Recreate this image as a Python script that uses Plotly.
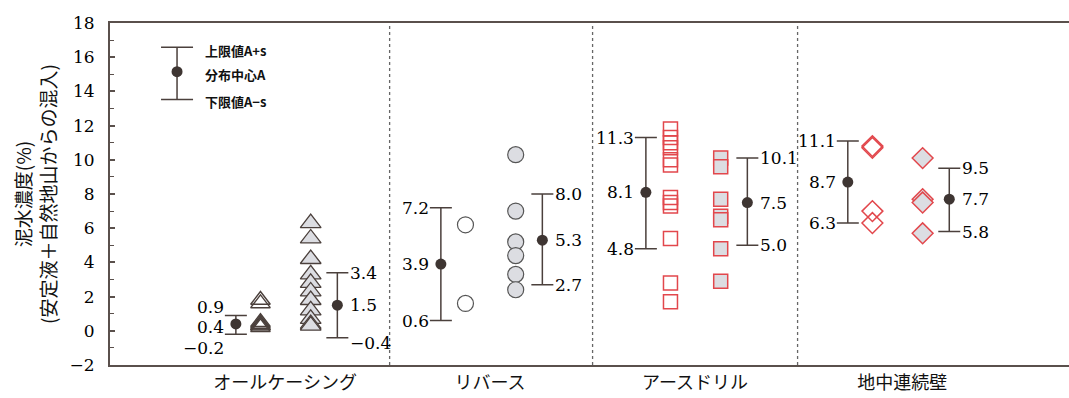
import plotly.graph_objects as go

# ---- data -------------------------------------------------------------
groups = ["オールケーシング", "リバース", "アースドリル", "地中連続壁"]

# distribution centre A and limits A±s, left and right subsets of each group
mean_left = [0.4, 3.9, 8.1, 8.7]
upper_left = [0.9, 7.2, 11.3, 11.1]
lower_left = [-0.2, 0.6, 4.8, 6.3]

mean_right = [1.5, 5.3, 7.5, 7.7]
upper_right = [3.4, 8.0, 10.1, 9.5]
lower_right = [-0.4, 2.7, 5.0, 5.8]

# individual measurements
allcasing_a = [1.8, 1.6, 0.5, 0.4, 0.3, 0.3, 0.2]
allcasing_b = [6.3, 5.4, 4.2, 3.3, 2.8, 2.3, 1.8, 1.2, 0.7, 0.4, 0.3]
reverse_a = [6.2, 1.6]
reverse_b = [10.3, 7.0, 5.2, 4.4, 3.3, 2.4]
earthdrill_a = [11.8, 11.3, 11.0, 10.7, 10.0, 9.7, 7.8, 7.5, 7.3, 5.4, 2.8, 1.7]
earthdrill_b = [10.1, 9.6, 7.7, 6.7, 6.5, 4.8, 2.9]
diaphragm_a = [10.8, 10.7, 7.0, 6.3]
diaphragm_b = [10.1, 7.7, 7.5, 5.7]

legend_labels = ["上限値A+s", "分布中心A", "下限値A−s"]
legend_center, legend_upper, legend_lower = 15.15, 16.58, 13.53

# ---- layout constants --------------------------------------------------
centers = [0.0, 1.0, 2.0, 2.985]
OFF_MEAN_L, OFF_PTS_L, OFF_PTS_R, OFF_MEAN_R = -0.24, -0.12, 0.125, 0.255
separators = [0.51, 1.5, 2.5]

INK = "#3e3532"
BAR = "#4b403c"
AXIS = "#5a504c"
GRAY_FILL = "#dcdde2"
RED = "#e2474c"
NUM_FONT = dict(family="DejaVu Serif", size=17, color="#000000")

fig = go.Figure()


def pts(group_idx, offset, values, symbol, size, fill, line_color, line_w):
    fig.add_trace(go.Scatter(
        x=[centers[group_idx] + offset] * len(values), y=values,
        mode="markers", showlegend=False, hoverinfo="y",
        marker=dict(symbol=symbol, size=size, color=fill,
                    line=dict(color=line_color, width=line_w)),
    ))


pts(0, OFF_PTS_L, allcasing_a, "triangle-up-open", 17, BAR, BAR, 1.4)
pts(0, OFF_PTS_R, allcasing_b, "triangle-up", 18, GRAY_FILL, BAR, 1.3)
pts(1, OFF_PTS_L, reverse_a, "circle", 16, "white", "#555555", 1.2)
pts(1, OFF_PTS_R, reverse_b, "circle", 16, GRAY_FILL, "#555555", 1.2)
pts(2, OFF_PTS_L, earthdrill_a, "square-open", 14, RED, RED, 1.5)
pts(2, OFF_PTS_R, earthdrill_b, "square", 14, GRAY_FILL, RED, 1.5)
pts(3, OFF_PTS_L, diaphragm_a, "diamond-open", 16, RED, RED, 1.5)
pts(3, OFF_PTS_R, diaphragm_b, "diamond", 16, GRAY_FILL, RED, 1.5)


def mean_bars(offset, means, uppers, lowers):
    xs = [c + offset for c in centers]
    fig.add_trace(go.Scatter(
        x=xs, y=means, mode="markers", showlegend=False,
        marker=dict(size=11, color=INK),
        error_y=dict(type="data", symmetric=False,
                     array=[u - m for u, m in zip(uppers, means)],
                     arrayminus=[m - l for m, l in zip(means, lowers)],
                     color=BAR, thickness=1.5, width=11),
    ))
    return xs


xs_left = mean_bars(OFF_MEAN_L, mean_left, upper_left, lower_left)
xs_right = mean_bars(OFF_MEAN_R, mean_right, upper_right, lower_right)


def fmt(v):
    return f"{v:.1f}".replace("-", "−")


# small vertical nudges so crowded value labels do not collide
shift_left = {0: (8, -3, -14)}
shift_right = {0: (0, 0, -5)}

for i in range(len(groups)):
    sl = shift_left.get(i, (0, 0, 0))
    for v, ys in zip((upper_left[i], mean_left[i], lower_left[i]), sl):
        fig.add_annotation(x=xs_left[i], y=v, text=fmt(v), showarrow=False,
                           xanchor="right", yanchor="middle", xshift=-10,
                           yshift=ys, font=NUM_FONT)
    sr = shift_right.get(i, (0, 0, 0))
    for v, ys in zip((upper_right[i], mean_right[i], lower_right[i]), sr):
        fig.add_annotation(x=xs_right[i], y=v, text=fmt(v), showarrow=False,
                           xanchor="left", yanchor="middle", xshift=11,
                           yshift=ys, font=NUM_FONT)

# legend glyph: one error bar with its centre dot
LEG_X = -0.527
fig.add_trace(go.Scatter(
    x=[LEG_X], y=[legend_center], mode="markers", showlegend=False,
    marker=dict(size=11, color=INK),
    error_y=dict(type="data", symmetric=False,
                 array=[legend_upper - legend_center],
                 arrayminus=[legend_center - legend_lower],
                 color=BAR, thickness=1.5, width=16),
))
for txt, yv in zip(legend_labels, (16.4, 15.0, 13.4)):
    fig.add_annotation(x=-0.40, y=yv, text=f"<b>{txt}</b>", showarrow=False,
                       xanchor="left", yanchor="middle",
                       font=dict(family="Noto Sans CJK JP", size=13,
                                 color="#111111"))

# dotted separators between construction methods
for sx in separators:
    fig.add_shape(type="line", x0=sx, x1=sx, y0=-2, y1=18, xref="x", yref="y",
                  line=dict(color="#666666", width=1.3, dash="dot"))

fig.update_layout(
    width=1069, height=398,
    margin=dict(l=110, r=0, t=23, b=33),
    paper_bgcolor="white", plot_bgcolor="white",
    showlegend=False,
    xaxis=dict(
        range=[-0.854, 3.824], tickvals=[0, 1, 2, 3.01], ticktext=groups,
        showline=True, mirror=True, linecolor=AXIS, linewidth=2,
        ticks="", showgrid=False, zeroline=False,
        tickfont=dict(family="Noto Sans CJK JP", size=18, color="#111111"),
    ),
    yaxis=dict(
        range=[-2, 18], tick0=0, dtick=2,
        ticks="inside", ticklen=5, tickwidth=1.5, tickcolor=AXIS,
        minor=dict(dtick=1, ticks="inside", ticklen=4, tickcolor=AXIS,
                   tickwidth=1.2),
        showline=True, linecolor=AXIS, linewidth=2,
        showgrid=False, zeroline=False,
        ticklabelstandoff=10,
        tickfont=dict(family="DejaVu Serif", size=17, color="#000000"),
        tickformat="d",
        title=dict(text="泥水濃度(%)<br>(安定液＋自然地山からの混入)",
                   standoff=8,
                   font=dict(family="Noto Sans CJK JP", size=19,
                             color="#111111")),
    ),
)

fig.write_html("out.html")
